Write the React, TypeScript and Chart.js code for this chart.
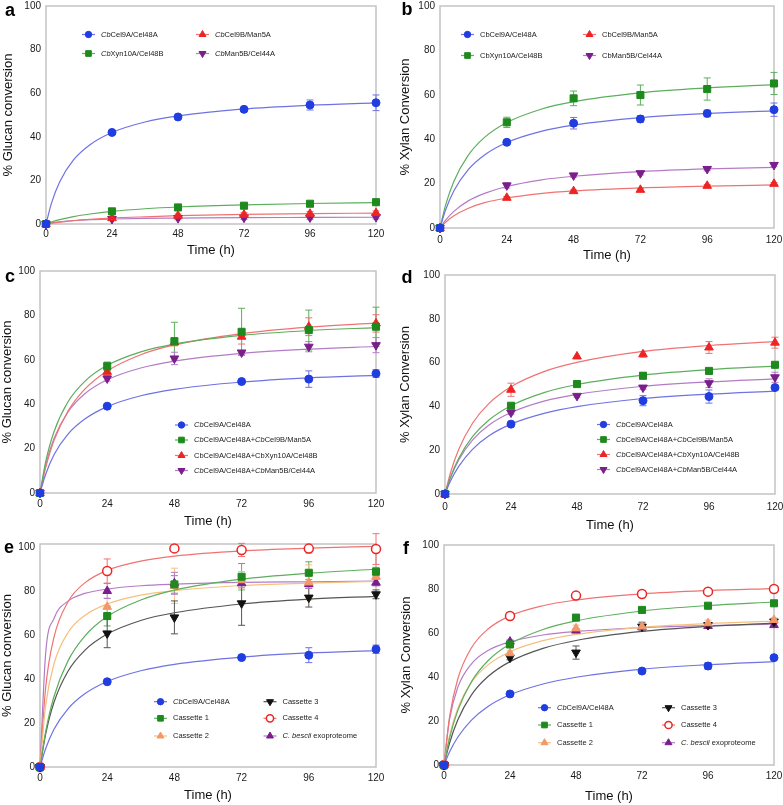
import React, { useEffect, useRef } from 'react';
import { Chart, registerables } from 'chart.js';

Chart.register(...registerables);
Chart.defaults.font.family = "'Liberation Sans', Arial, Helvetica, sans-serif";

// ---------- shared axes ----------
const TIMES = [0, 24, 48, 72, 96, 120];
const CURVE_T = [0, 2, 5, 10, 16, 24, 36, 48, 72, 96, 120];
const X_TICKS = [0, 24, 48, 72, 96, 120];
const Y_TICKS = [0, 20, 40, 60, 80, 100];
const X_TITLE = 'Time (h)';

// ---------- panel a : % Glucan conversion ----------
const A_LABELS = ['*Cb*Cel9A/Cel48A', '*Cb*Xyn10A/Cel48B', '*Cb*Cel9B/Man5A', '*Cb*Man5B/Cel44A'];
const A_CEL9A = [0, 42.0, 49.1, 52.6, 54.6, 55.6];
const A_CEL9A_ERR = [0, 0.5, 0.6, 0.7, 2.3, 3.6];
const A_CEL9A_FIT = [0, 9.6, 19.4, 29.4, 36.4, 42.0, 46.8, 49.6, 52.8, 54.5, 55.6];
const A_XYN10A = [0, 5.8, 7.6, 8.4, 9.3, 10.0];
const A_XYN10A_ERR = [0, 0.4, 0.4, 0.5, 0.6, 0.6];
const A_XYN10A_FIT = [0, 0.9, 2.0, 3.4, 4.6, 5.8, 7.0, 7.8, 8.8, 9.4, 9.8];
const A_CEL9B = [0, 2.7, 3.8, 4.3, 4.7, 5.0];
const A_CEL9B_ERR = [0, 0.6, 0.8, 0.9, 1.0, 1.0];
const A_CEL9B_FIT = [0, 0.4, 0.9, 1.5, 2.1, 2.7, 3.3, 3.8, 4.4, 4.8, 5.0];
const A_MAN5B = [0, 2.3, 2.7, 2.9, 3.0, 3.2];
const A_MAN5B_ERR = [0, 0.6, 0.8, 0.8, 0.9, 0.9];
const A_MAN5B_FIT = [0, 0.5, 1.0, 1.6, 2.0, 2.3, 2.6, 2.7, 2.9, 3.0, 3.1];

// ---------- panel b : % Xylan Conversion ----------
const B_LABELS = ['CbCel9A/Cel48A', 'CbXyn10A/Cel48B', 'CbCel9B/Man5A', 'CbMan5B/Cel44A'];
const B_CEL9A = [0, 38.6, 47.2, 49.1, 51.6, 53.3];
const B_CEL9A_ERR = [0, 0.8, 2.6, 1.5, 1.5, 3.0];
const B_CEL9A_FIT = [0, 8.1, 16.8, 26.1, 32.9, 38.5, 43.4, 46.3, 49.7, 51.6, 52.8];
const B_XYN10A = [0, 47.6, 58.4, 59.9, 62.6, 65.1];
const B_XYN10A_ERR = [0, 2.3, 3.3, 4.5, 5.0, 5.0];
const B_XYN10A_FIT = [0, 10.3, 21.1, 32.5, 40.8, 47.5, 53.4, 56.9, 60.9, 63.1, 64.6];
const B_CEL9B = [0, 13.6, 16.6, 17.2, 19.0, 19.9];
const B_CEL9B_ERR = [0, 0.6, 0.6, 0.6, 0.6, 0.6];
const B_CEL9B_FIT = [0, 2.6, 5.5, 8.8, 11.4, 13.5, 15.5, 16.7, 18.1, 18.9, 19.4];
const B_MAN5B = [0, 19.2, 23.7, 24.7, 26.6, 28.4];
const B_MAN5B_ERR = [0, 1.2, 0.8, 0.8, 0.8, 0.8];
const B_MAN5B_FIT = [0, 3.5, 7.5, 12.1, 15.6, 18.7, 21.6, 23.3, 25.4, 26.6, 27.3];

// ---------- panel c : % Glucan conversion ----------
const C_LABELS = ['*Cb*Cel9A/Cel48A', '*Cb*Cel9A/Cel48A+*Cb*Cel9B/Man5A', 'CbCel9A/Cel48A+CbXyn10A/Cel48B', '*Cb*Cel9A/Cel48A+*Cb*Man5B/Cel44A'];
const C_CEL9A = [0, 39.1, null, 50.2, 51.3, 53.8];
const C_CEL9A_ERR = [0, 0.5, 0, 0.6, 3.7, 1.7];
const C_CEL9A_FIT = [0, 8.3, 17.2, 26.5, 33.3, 38.9, 43.8, 46.7, 50.0, 51.9, 53.0];
const C_PLUS_CEL9B = [0, 57.1, 68.4, 72.6, 73.4, 74.9];
const C_PLUS_CEL9B_ERR = [0, 1.9, 8.5, 10.6, 9.0, 8.8];
const C_PLUS_CEL9B_FIT = [0, 13.9, 27.6, 41.1, 50.3, 57.5, 63.6, 67.1, 71.0, 73.2, 74.5];
const C_PLUS_XYN10A = [0, 54.6, 67.8, 70.4, 74.9, 76.4];
const C_PLUS_XYN10A_ERR = [0, 1.5, 1.5, 3.3, 4.0, 3.9];
const C_PLUS_XYN10A_FIT = [0, 11.3, 23.6, 36.9, 46.8, 55.0, 62.3, 66.7, 71.8, 74.7, 76.5];
const C_PLUS_MAN5B = [0, 51.6, 60.6, 63.3, 65.9, 66.6];
const C_PLUS_MAN5B_ERR = [0, 1.2, 2.8, 0.8, 2.3, 3.4];
const C_PLUS_MAN5B_FIT = [0, 12.4, 24.6, 36.5, 44.7, 51.0, 56.3, 59.4, 62.9, 64.8, 66.0];

// ---------- panel d : % Xylan Conversion ----------
const D_LABELS = ['*Cb*Cel9A/Cel48A', '*Cb*Cel9A/Cel48A+*Cb*Cel9B/Man5A', '*Cb*Cel9A/Cel48A+*Cb*Xyn10A/Cel48B', '*Cb*Cel9A/Cel48A+*Cb*Man5B/Cel44A'];
const D_CEL9A = [0, 31.9, null, 42.6, 44.5, 48.6];
const D_CEL9A_ERR = [0, 0.6, 0, 2.3, 3.0, 1.0];
const D_CEL9A_FIT = [0, 5.9, 12.6, 20.4, 26.6, 31.9, 36.8, 39.9, 43.6, 45.6, 47.0];
const D_PLUS_CEL9B = [0, 40.3, 50.2, 54.0, 56.2, 59.0];
const D_PLUS_CEL9B_ERR = [0, 0.8, 0.8, 1.5, 0.8, 0.8];
const D_PLUS_CEL9B_FIT = [0, 7.7, 16.3, 26.2, 33.8, 40.3, 46.3, 50.0, 54.3, 56.8, 58.4];
const D_PLUS_XYN10A = [0, 47.6, 62.8, 63.8, 66.9, 69.1];
const D_PLUS_XYN10A_ERR = [0, 3.0, 0, 1.3, 2.7, 2.5];
const D_PLUS_XYN10A_FIT = [0, 9.7, 20.4, 32.3, 41.4, 49.0, 55.9, 60.1, 65.1, 67.8, 69.6];
const D_PLUS_MAN5B = [0, 37.2, 44.8, 48.6, 50.6, 53.3];
const D_PLUS_MAN5B_ERR = [0, 0.8, 0.6, 0.8, 2.0, 2.3];
const D_PLUS_MAN5B_FIT = [0, 7.4, 15.6, 24.6, 31.5, 37.2, 42.4, 45.5, 49.2, 51.2, 52.6];

// ---------- panel e : % Glucan conversion ----------
const E_LABELS = ['*Cb*Cel9A/Cel48A', 'Cassette 1', 'Cassette 2', 'Cassette 3', 'Cassette 4', '*C. bescii* exoproteome'];
const E_CEL9A = [0, 38.8, null, 49.8, 50.9, 53.6];
const E_CEL9A_ERR = [0, 0.5, 0, 0.6, 3.4, 1.9];
const E_CEL9A_FIT = [0, 8.3, 17.2, 26.5, 33.3, 38.9, 43.8, 46.7, 50.0, 51.9, 53.0];
const E_CAS1 = [0, 68.7, 83.1, 86.6, 88.4, 88.9];
const E_CAS1_ERR = [0, 4.5, 4.0, 6.0, 5.0, 2.0];
const E_CAS1_FIT = [0, 16.0, 32.1, 48.3, 59.6, 68.5, 76.0, 80.5, 85.5, 88.2, 90.0];
const E_CAS2 = [0, 72.9, 82.5, 85.0, 84.0, 86.6];
const E_CAS2_ERR = [0, 4.0, 8.0, 4.0, 8.0, 3.5];
const E_CAS2_FIT = [0, 27.8, 47.0, 61.2, 69.0, 74.2, 78.2, 80.3, 82.6, 83.7, 84.5];
const E_CAS3 = [0, 60.8, 68.1, 74.5, 77.1, 78.6];
const E_CAS3_ERR = [0, 6.5, 7.5, 10.0, 4.3, 2.0];
const E_CAS3_FIT = [0, 14.9, 29.5, 43.6, 53.1, 60.5, 66.7, 70.2, 74.2, 76.4, 77.7];
const E_CAS4 = [0, 89.2, 99.5, 98.8, 99.4, 99.2];
const E_CAS4_ERR = [0, 5.5, 1.0, 3.0, 2.0, 7.0];
const E_CAS4_FIT = [0, 35.9, 59.1, 75.2, 83.8, 89.5, 93.7, 96.0, 98.4, 99.6, 100.4];
const E_EXO = [0, 80.1, 83.6, 83.6, 83.3, 83.9];
const E_EXO_ERR = [0, 3.4, 5.0, 2.0, 2.0, 1.5];
const E_EXO_FIT = [0, 51.5, 67.6, 75.5, 79.0, 81.0, 82.5, 83.2, 84.0, 84.3, 84.6];

// ---------- panel f : % Xylan Conversion ----------
const F_LABELS = ['*Cb*Cel9A/Cel48A', 'Cassette 1', 'Cassette 2', 'Cassette 3', 'Cassette 4', '*C. bescii* exoproteome'];
const F_CEL9A = [0, 32.3, null, 42.7, 45.0, 48.8];
const F_CEL9A_ERR = [0, 0.5, 0, 0.6, 1.5, 0.8];
const F_CEL9A_FIT = [0, 5.9, 12.6, 20.4, 26.6, 31.9, 36.8, 39.9, 43.6, 45.6, 47.0];
const F_CAS1 = [0, 54.8, 67.0, 70.5, 72.4, 73.5];
const F_CAS1_ERR = [0, 0.8, 0.8, 0.8, 0.8, 0.8];
const F_CAS1_FIT = [0, 12.1, 24.7, 37.9, 47.4, 55.0, 61.6, 65.5, 70.0, 72.5, 74.1];
const F_CAS2 = [0, 50.8, 62.1, 62.9, 64.4, 65.9];
const F_CAS2_ERR = [0, 1.0, 1.5, 1.0, 1.5, 1.0];
const F_CAS2_FIT = [0, 13.2, 25.7, 37.6, 45.5, 51.5, 56.5, 59.4, 62.6, 64.3, 65.4];
const F_CAS3 = [0, 48.8, 51.1, 62.9, 63.6, 65.2];
const F_CAS3_ERR = [0, 1.0, 3.0, 2.0, 1.0, 1.0];
const F_CAS3_FIT = [0, 9.9, 20.5, 31.9, 40.2, 47.0, 53.0, 56.6, 60.7, 63.0, 64.5];
const F_CAS4 = [0, 67.7, 77.0, 77.7, 78.8, 80.0];
const F_CAS4_ERR = [0, 0.8, 1.5, 1.5, 0.8, 1.5];
const F_CAS4_FIT = [0, 21.7, 39.1, 53.3, 61.8, 67.8, 72.4, 75.0, 77.8, 79.3, 80.2];
const F_EXO = [0, 56.1, 61.1, 62.6, 63.2, 63.6];
const F_EXO_ERR = [0, 0.8, 0.8, 0.8, 0.8, 0.8];
const F_EXO_FIT = [0, 20.7, 35.3, 46.0, 52.0, 56.0, 59.1, 60.7, 62.5, 63.4, 64.0];

// ---------- styles ----------
const STYLES: any = {
  blue: { marker: '#1f3de0', fill: '#1f3de0', line: '#6f72e2', shape: 'circle', rot: 0, r: 4, bw: 1 },
  green: { marker: '#1e8a1e', fill: '#1e8a1e', line: '#5dae5d', shape: 'rect', rot: 0, r: 5, bw: 1 },
  red: { marker: '#ee2424', fill: '#ee2424', line: '#f07272', shape: 'triangle', rot: 0, r: 5, bw: 1 },
  purple: { marker: '#7a1e8c', fill: '#7a1e8c', line: '#b47cc6', shape: 'triangle', rot: 180, r: 5, bw: 1 },
  orange: { marker: '#f4976a', fill: '#f4976a', line: '#f5c07e', shape: 'triangle', rot: 0, r: 5, bw: 1 },
  black: { marker: '#111111', fill: '#111111', line: '#555555', shape: 'triangle', rot: 180, r: 5, bw: 1 },
  redOpen: { marker: '#ee2424', fill: '#ffffff', line: '#f07272', shape: 'circle', rot: 0, r: 4.5, bw: 1.5 },
  exo: { marker: '#7a1e8c', fill: '#7a1e8c', line: '#b47cc6', shape: 'triangle', rot: 0, r: 5, bw: 1 },
};

const TICK_SIZE = 10;
const TITLE_SIZE = 13;
const LEGEND_SIZE = 7.5;

const PANELS: any[] = [
  {
    letter: 'a', yTitle: '% Glucan conversion', yMax: 100,
    geom: { left: 0, top: 0, w: 390, h: 262, pl: 46, pr: 376, pt: 5, pb: 224, tickY: 234, xTitleY: 250.5, yTitleX: 8.5, lx: 5, ly: 15.5 },
    legend: { cols: [82, 196], rows: [34.5, 53.5] },
    series: [
      { label: A_LABELS[0], style: 'blue', values: A_CEL9A, errors: A_CEL9A_ERR, fit: A_CEL9A_FIT, col: 0, row: 0 },
      { label: A_LABELS[1], style: 'green', values: A_XYN10A, errors: A_XYN10A_ERR, fit: A_XYN10A_FIT, col: 0, row: 1 },
      { label: A_LABELS[2], style: 'red', values: A_CEL9B, errors: A_CEL9B_ERR, fit: A_CEL9B_FIT, col: 1, row: 0 },
      { label: A_LABELS[3], style: 'purple', values: A_MAN5B, errors: A_MAN5B_ERR, fit: A_MAN5B_FIT, col: 1, row: 1 },
    ],
  },
  {
    letter: 'b', yTitle: '% Xylan Conversion', yMax: 100,
    geom: { left: 390, top: 0, w: 393, h: 265, pl: 440, pr: 774, pt: 5, pb: 228, tickY: 240, xTitleY: 255, yTitleX: 405.5, lx: 401.5, ly: 15 },
    legend: { cols: [461, 583], rows: [34.5, 55.5] },
    series: [
      { label: B_LABELS[0], style: 'blue', values: B_CEL9A, errors: B_CEL9A_ERR, fit: B_CEL9A_FIT, col: 0, row: 0 },
      { label: B_LABELS[1], style: 'green', values: B_XYN10A, errors: B_XYN10A_ERR, fit: B_XYN10A_FIT, col: 0, row: 1 },
      { label: B_LABELS[2], style: 'red', values: B_CEL9B, errors: B_CEL9B_ERR, fit: B_CEL9B_FIT, col: 1, row: 0 },
      { label: B_LABELS[3], style: 'purple', values: B_MAN5B, errors: B_MAN5B_ERR, fit: B_MAN5B_FIT, col: 1, row: 1 },
    ],
  },
  {
    letter: 'c', yTitle: '% Glucan conversion', yMax: 100,
    geom: { left: 0, top: 262, w: 390, h: 270, pl: 40, pr: 376, pt: 271, pb: 493, tickY: 504.5, xTitleY: 521.7, yTitleX: 7.5, lx: 5, ly: 282 },
    legend: { cols: [175], rows: [425, 440, 455.5, 470.5] },
    series: [
      { label: C_LABELS[0], style: 'blue', values: C_CEL9A, errors: C_CEL9A_ERR, fit: C_CEL9A_FIT, col: 0, row: 0 },
      { label: C_LABELS[1], style: 'green', values: C_PLUS_CEL9B, errors: C_PLUS_CEL9B_ERR, fit: C_PLUS_CEL9B_FIT, col: 0, row: 1 },
      { label: C_LABELS[2], style: 'red', values: C_PLUS_XYN10A, errors: C_PLUS_XYN10A_ERR, fit: C_PLUS_XYN10A_FIT, col: 0, row: 2 },
      { label: C_LABELS[3], style: 'purple', values: C_PLUS_MAN5B, errors: C_PLUS_MAN5B_ERR, fit: C_PLUS_MAN5B_FIT, col: 0, row: 3 },
    ],
  },
  {
    letter: 'd', yTitle: '% Xylan Conversion', yMax: 100,
    geom: { left: 390, top: 265, w: 393, h: 270, pl: 445, pr: 775, pt: 275, pb: 494, tickY: 507.3, xTitleY: 525.5, yTitleX: 405.5, lx: 401.5, ly: 283 },
    legend: { cols: [597], rows: [424.5, 439.5, 454.5, 469.5] },
    series: [
      { label: D_LABELS[0], style: 'blue', values: D_CEL9A, errors: D_CEL9A_ERR, fit: D_CEL9A_FIT, col: 0, row: 0 },
      { label: D_LABELS[1], style: 'green', values: D_PLUS_CEL9B, errors: D_PLUS_CEL9B_ERR, fit: D_PLUS_CEL9B_FIT, col: 0, row: 1 },
      { label: D_LABELS[2], style: 'red', values: D_PLUS_XYN10A, errors: D_PLUS_XYN10A_ERR, fit: D_PLUS_XYN10A_FIT, col: 0, row: 2 },
      { label: D_LABELS[3], style: 'purple', values: D_PLUS_MAN5B, errors: D_PLUS_MAN5B_ERR, fit: D_PLUS_MAN5B_FIT, col: 0, row: 3 },
    ],
  },
  {
    letter: 'e', yTitle: '% Glucan conversion', yMax: 101.5,
    geom: { left: 0, top: 532, w: 390, h: 273, pl: 40, pr: 376, pt: 544, pb: 767, tickY: 778.3, xTitleY: 795.5, yTitleX: 7.5, lx: 4, ly: 553 },
    legend: { cols: [154, 263.5], rows: [701.7, 718.3, 736] },
    series: [
      { label: E_LABELS[0], style: 'blue', values: E_CEL9A, errors: E_CEL9A_ERR, fit: E_CEL9A_FIT, col: 0, row: 0 },
      { label: E_LABELS[1], style: 'green', values: E_CAS1, errors: E_CAS1_ERR, fit: E_CAS1_FIT, col: 0, row: 1 },
      { label: E_LABELS[2], style: 'orange', values: E_CAS2, errors: E_CAS2_ERR, fit: E_CAS2_FIT, col: 0, row: 2 },
      { label: E_LABELS[3], style: 'black', values: E_CAS3, errors: E_CAS3_ERR, fit: E_CAS3_FIT, col: 1, row: 0 },
      { label: E_LABELS[4], style: 'redOpen', values: E_CAS4, errors: E_CAS4_ERR, fit: E_CAS4_FIT, col: 1, row: 1 },
      { label: E_LABELS[5], style: 'exo', values: E_EXO, errors: E_EXO_ERR, fit: E_EXO_FIT, col: 1, row: 2 },
    ],
  },
  {
    letter: 'f', yTitle: '% Xylan Conversion', yMax: 100,
    geom: { left: 390, top: 535, w: 393, h: 270, pl: 444, pr: 774, pt: 545, pb: 765, tickY: 776.7, xTitleY: 796.7, yTitleX: 406.3, lx: 403, ly: 554 },
    legend: { cols: [538, 662], rows: [707.7, 725, 742.7] },
    series: [
      { label: F_LABELS[0], style: 'blue', values: F_CEL9A, errors: F_CEL9A_ERR, fit: F_CEL9A_FIT, col: 0, row: 0 },
      { label: F_LABELS[1], style: 'green', values: F_CAS1, errors: F_CAS1_ERR, fit: F_CAS1_FIT, col: 0, row: 1 },
      { label: F_LABELS[2], style: 'orange', values: F_CAS2, errors: F_CAS2_ERR, fit: F_CAS2_FIT, col: 0, row: 2 },
      { label: F_LABELS[3], style: 'black', values: F_CAS3, errors: F_CAS3_ERR, fit: F_CAS3_FIT, col: 1, row: 0 },
      { label: F_LABELS[4], style: 'redOpen', values: F_CAS4, errors: F_CAS4_ERR, fit: F_CAS4_FIT, col: 1, row: 1 },
      { label: F_LABELS[5], style: 'exo', values: F_EXO, errors: F_EXO_ERR, fit: F_EXO_FIT, col: 1, row: 2 },
    ],
  },
];

// ---------- drawing helpers ----------
function drawMarker(ctx: CanvasRenderingContext2D, st: any, x: number, y: number, scale: number) {
  const r = st.r * scale;
  ctx.save();
  ctx.fillStyle = st.fill;
  ctx.strokeStyle = st.marker;
  ctx.lineWidth = st.bw;
  ctx.beginPath();
  if (st.shape === 'circle') {
    ctx.arc(x, y, r, 0, Math.PI * 2);
  } else if (st.shape === 'rect') {
    const s = r * Math.SQRT1_2;
    ctx.rect(x - s, y - s, 2 * s, 2 * s);
  } else {
    const rot = (st.rot * Math.PI) / 180;
    for (let k = 0; k < 3; k++) {
      const a = rot + (k * 2 * Math.PI) / 3;
      const px = x + Math.sin(a) * r;
      const py = y - Math.cos(a) * r;
      if (k === 0) ctx.moveTo(px, py);
      else ctx.lineTo(px, py);
    }
    ctx.closePath();
  }
  ctx.fill();
  ctx.stroke();
  ctx.restore();
}

function drawRichText(ctx: CanvasRenderingContext2D, text: string, x: number, y: number, size: number) {
  const parts = text.split('*');
  let cx = x;
  parts.forEach((part, i) => {
    if (!part) return;
    const italic = i % 2 === 1;
    ctx.font = `${italic ? 'italic ' : ''}${size}px 'Liberation Sans', Arial, sans-serif`;
    ctx.fillText(part, cx, y);
    cx += ctx.measureText(part).width;
  });
}

const extrasPlugin = {
  id: 'extras',
  beforeDatasetsDraw(chart: any, _args: any, opts: any) {
    const ctx = chart.ctx;
    const { left, right, top, bottom } = chart.chartArea;
    ctx.save();
    ctx.strokeStyle = '#c3c3c3';
    ctx.lineWidth = 1.5;
    ctx.strokeRect(left, top, right - left, bottom - top);
    const xs = chart.scales.x;
    const ys = chart.scales.y;
    chart.data.datasets.forEach((ds: any) => {
      if (!ds.errors) return;
      ctx.strokeStyle = ds.errColor;
      ctx.lineWidth = 1;
      ds.data.forEach((p: any, j: number) => {
        const e = ds.errors[j];
        if (p.y == null || !e) return;
        const x = xs.getPixelForValue(p.x);
        const y1 = ys.getPixelForValue(p.y + e);
        const y2 = ys.getPixelForValue(p.y - e);
        ctx.beginPath();
        ctx.moveTo(x, y1);
        ctx.lineTo(x, y2);
        ctx.moveTo(x - 3.5, y1);
        ctx.lineTo(x + 3.5, y1);
        ctx.moveTo(x - 3.5, y2);
        ctx.lineTo(x + 3.5, y2);
        ctx.stroke();
      });
    });
    ctx.restore();
  },
  afterDraw(chart: any, _args: any, opts: any) {
    const p = opts.panel;
    if (!p) return;
    const g = p.geom;
    const ctx = chart.ctx;
    ctx.save();
    // panel letter
    ctx.fillStyle = '#000';
    ctx.font = "bold 18px 'Liberation Sans', Arial, sans-serif";
    ctx.textBaseline = 'alphabetic';
    ctx.textAlign = 'left';
    ctx.fillText(p.letter, g.lx - g.left, g.ly - g.top);
    // legend
    ctx.textBaseline = 'middle';
    p.series.forEach((s: any) => {
      const st = STYLES[s.style];
      const x0 = p.legend.cols[s.col] - g.left;
      const y = p.legend.rows[s.row] - g.top;
      ctx.strokeStyle = st.line;
      ctx.lineWidth = 1.2;
      ctx.beginPath();
      ctx.moveTo(x0, y);
      ctx.lineTo(x0 + 13, y);
      ctx.stroke();
      drawMarker(ctx, st, x0 + 6.5, y, 0.8);
      ctx.fillStyle = '#1a1a1a';
      drawRichText(ctx, s.label, x0 + 19, y, LEGEND_SIZE);
    });
    ctx.restore();
  },
};

function buildConfig(p: any) {
  const g = p.geom;
  const datasets: any[] = [];
  p.series.forEach((s: any) => {
    const st = STYLES[s.style];
    datasets.push({
      type: 'line',
      label: s.label + ' fit',
      data: CURVE_T.map((t, i) => ({ x: t, y: s.fit[i] })),
      borderColor: st.line,
      borderWidth: 1.2,
      pointRadius: 0,
      fill: false,
      cubicInterpolationMode: 'monotone',
      order: 2,
      clip: false,
    });
    datasets.push({
      type: 'line',
      label: s.label,
      data: TIMES.map((t, i) => ({ x: t, y: s.values[i] })),
      showLine: false,
      pointStyle: st.shape,
      pointRotation: st.rot,
      pointRadius: st.r,
      pointBackgroundColor: st.fill,
      pointBorderColor: st.marker,
      pointBorderWidth: st.bw,
      order: 1,
      clip: false,
      errors: s.errors,
      errColor: st.line,
    });
  });
  const tickLH = TICK_SIZE * 1.2;
  const titleLH = TITLE_SIZE * 1.2;
  return {
    type: 'line',
    data: { datasets },
    plugins: [extrasPlugin],
    options: {
      responsive: false,
      maintainAspectRatio: false,
      animation: false,
      devicePixelRatio: 1,
      events: [],
      layout: { padding: { left: 0, top: g.pt - g.top, right: g.left + g.w - g.pr, bottom: 0 } },
      plugins: {
        legend: { display: false },
        tooltip: { enabled: false },
        extras: { panel: p },
      },
      scales: {
        x: {
          type: 'linear',
          min: 0,
          max: 120,
          grid: { display: false, drawTicks: false },
          border: { display: false },
          afterBuildTicks: (s: any) => { s.ticks = X_TICKS.map((v) => ({ value: v })); },
          afterFit: (s: any) => { s.height = g.top + g.h - g.pb; s.paddingLeft = 0; s.paddingRight = 0; },
          ticks: {
            font: { size: TICK_SIZE },
            color: '#1a1a1a',
            padding: g.tickY - g.pb - tickLH / 2,
            maxRotation: 0,
            autoSkip: false,
          },
          title: {
            display: true,
            text: X_TITLE,
            font: { size: TITLE_SIZE },
            color: '#111',
            padding: { top: 0, bottom: Math.max(0, g.top + g.h - g.xTitleY - titleLH / 2) },
          },
        },
        y: {
          type: 'linear',
          min: 0,
          max: p.yMax,
          grid: { display: false, drawTicks: false },
          border: { display: false },
          afterBuildTicks: (s: any) => { s.ticks = Y_TICKS.map((v) => ({ value: v })); },
          afterFit: (s: any) => { s.width = g.pl - g.left; s.paddingTop = 0; s.paddingBottom = 0; },
          ticks: { font: { size: TICK_SIZE }, color: '#1a1a1a', padding: 5 },
          title: {
            display: true,
            text: p.yTitle,
            font: { size: TITLE_SIZE },
            color: '#111',
            padding: { top: Math.max(0, g.yTitleX - g.left - titleLH / 2), bottom: 0 },
          },
        },
      },
    },
  };
}

function Panel({ p }: { p: any }) {
  const ref = useRef<HTMLCanvasElement>(null);
  useEffect(() => {
    const chart = new Chart(ref.current as HTMLCanvasElement, buildConfig(p) as any);
    return () => chart.destroy();
  }, [p]);
  const g = p.geom;
  return (
    <div style={{ position: 'absolute', left: g.left, top: g.top, width: g.w, height: g.h }}>
      <canvas ref={ref} width={g.w} height={g.h} style={{ width: g.w, height: g.h, display: 'block' }} />
    </div>
  );
}

export default function App() {
  return (
    <div style={{ position: 'absolute', left: 0, top: 0, width: 783, height: 805, background: '#fff', overflow: 'hidden' }}>
      {PANELS.map((p) => (
        <Panel key={p.letter} p={p} />
      ))}
    </div>
  );
}
